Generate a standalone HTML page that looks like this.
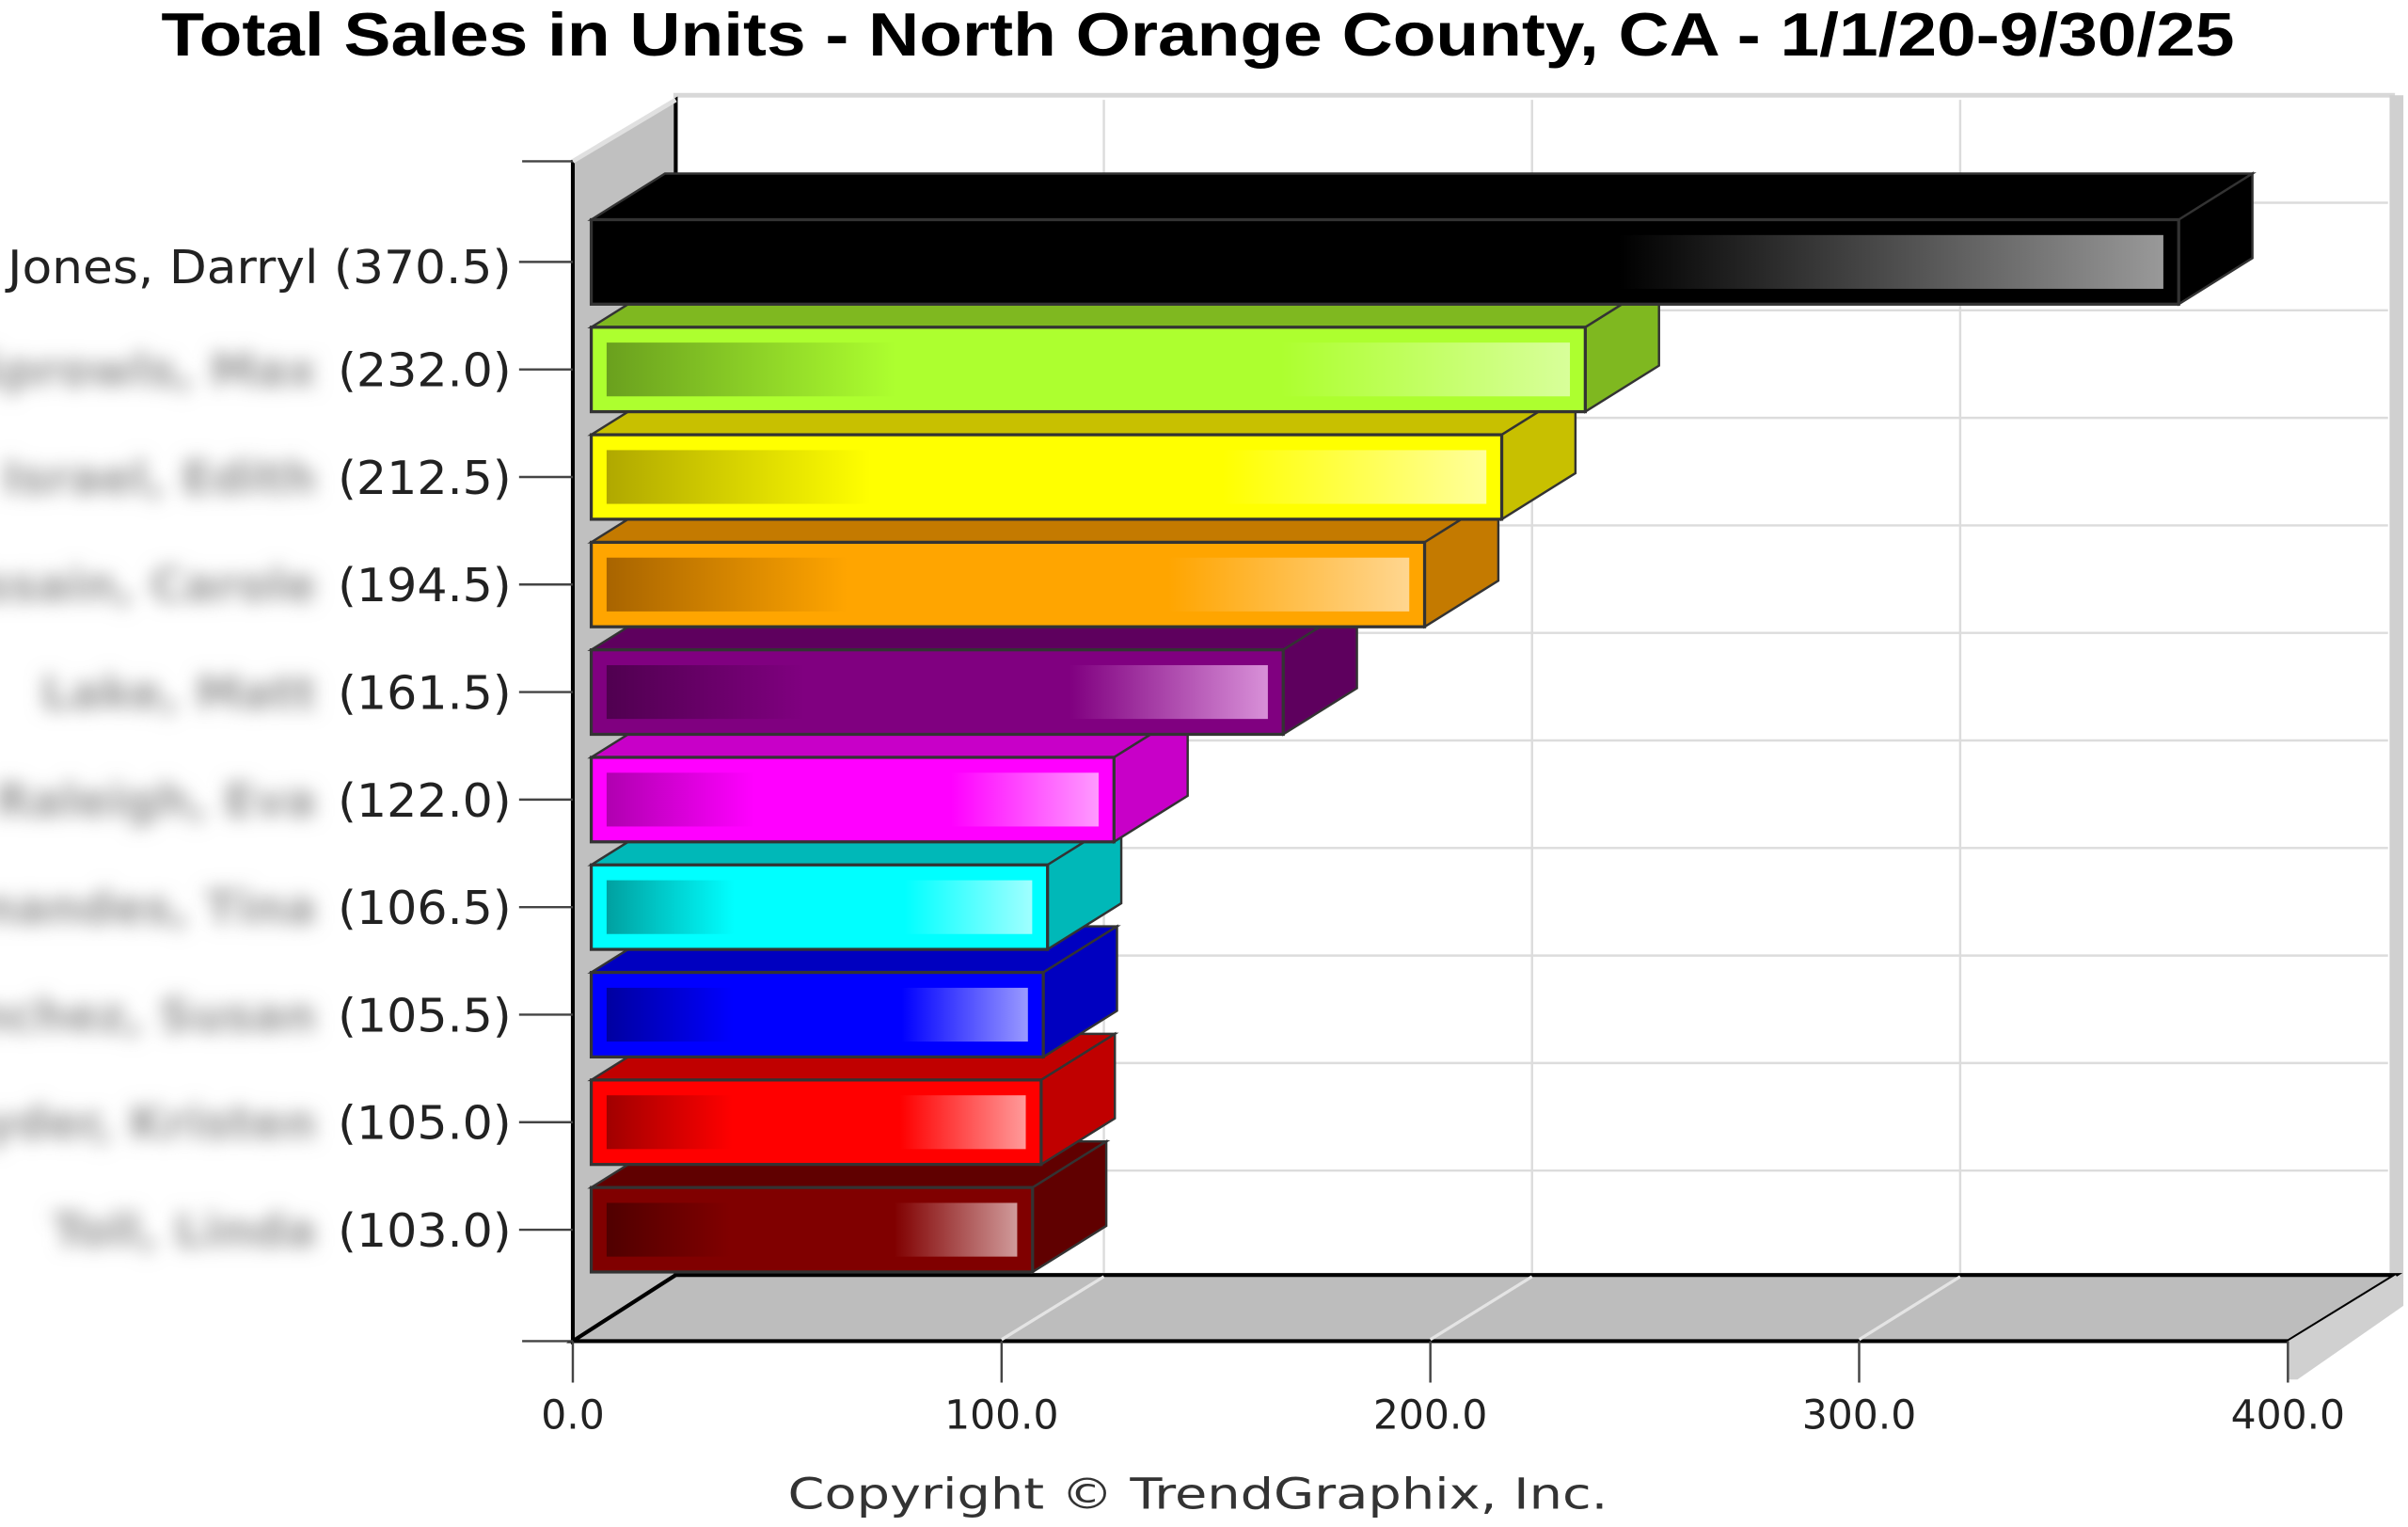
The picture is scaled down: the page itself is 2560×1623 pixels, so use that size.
<!DOCTYPE html>
<html><head><meta charset="utf-8">
<style>
html,body{margin:0;padding:0;background:#fff;}
svg{display:block;}
</style></head>
<body>
<svg id="s" width="2560" height="1623" viewBox="0 0 1568 994" preserveAspectRatio="none" xmlns="http://www.w3.org/2000/svg">
<defs>
<filter id="bl" x="-20%" y="-50%" width="140%" height="200%"><feGaussianBlur stdDeviation="6"/></filter>
</defs>
<text x="780" y="36" text-anchor="middle" font-family="Liberation Sans, Arial, sans-serif" font-weight="bold" font-size="40" textLength="1350" lengthAdjust="spacingAndGlyphs" fill="#000">Total Sales in Units - North Orange County, CA - 1/1/20-9/30/25</text>
<rect x="440" y="62" width="1118" height="768" fill="#fff" stroke="#d8d8d8" stroke-width="3"/>
<rect x="1556" y="62" width="9" height="775" fill="#d0d0d0"/>
<g id="grid" stroke="#dcdcdc" stroke-width="1.5"></g>
<polygon points="373,105 440,65 440,830 373,873" fill="#c0c0c0" stroke="#000" stroke-width="2.5"/>
<line x1="373" y1="105" x2="440" y2="65" stroke="#e0e0e0" stroke-width="3"/>
<polygon points="373,873 440,830 1560,830 1490,873" fill="#bdbdbd" stroke="#000" stroke-width="2.5"/>
<polygon points="1490,873 1560,830 1565,837 1565,850 1496,898 1490,898" fill="#d0d0d0"/>
<g id="fgrid" stroke="#e4e4e4" stroke-width="2"></g>
<g id="ticks" stroke="#444" stroke-width="1.5"></g>
<g id="bars"></g>
<g id="labels" font-family="DejaVu Sans, Verdana, sans-serif" font-size="26" fill="#222"></g>
<g id="ylabels" font-family="DejaVu Sans, Verdana, sans-serif" font-size="30" fill="#222"></g>
<text x="780" y="982" text-anchor="middle" font-family="DejaVu Sans, Verdana, sans-serif" font-size="28" fill="#333" textLength="534" lengthAdjust="spacingAndGlyphs">Copyright © TrendGraphix, Inc.</text>
</svg>
<script>
const NS="http://www.w3.org/2000/svg";
const s=document.getElementById('s');
function el(p,t,a,txt){const e=document.createElementNS(NS,t);for(const k in a)e.setAttribute(k,a[k]);if(txt!==undefined)e.textContent=txt;p.appendChild(e);return e;}
const grid=document.getElementById('grid');
for(let k=1;k<4;k++){const x=440+k*278.8;el(grid,'line',{x1:x,y1:65,x2:x,y2:830});}
for(let k=0;k<11;k++){const y=132+k*70;el(grid,'line',{x1:440,y1:y,x2:1555,y2:y});}
const fg=document.getElementById('fgrid');
for(let k=1;k<4;k++){el(fg,'line',{x1:373+k*279.2,y1:872,x2:440+k*278.8,y2:831});}
const tk=document.getElementById('ticks');
const lab=document.getElementById('labels');
const yl=document.getElementById('ylabels');
for(let k=0;k<5;k++){const x=373+k*279.2;el(tk,'line',{x1:x,y1:873,x2:x,y2:900});
 el(lab,'text',{x:x,y:930,'text-anchor':'middle'},(k*100).toFixed(1));}
el(tk,'line',{x1:340,y1:105,x2:373,y2:105});el(tk,'line',{x1:340,y1:873,x2:373,y2:873});
const data=[
["Jones, Darryl",370.5,"#000000","#000000","#000000","#000000","#999999"],
["Sprowls, Max",232.0,"#adff2f","#7fb820","#7fb820","#6aa01e","#d8ff9a"],
["Israel, Edith",212.5,"#ffff00","#c8c000","#c8c000","#b0a800","#ffff9a"],
["Hussain, Carole",194.5,"#ffa500","#c47a00","#c47a00","#a86400","#ffd690"],
["Lake, Matt",161.5,"#800080","#5e005e","#5e005e","#500050","#d890d8"],
["Raleigh, Eva",122.0,"#ff00ff","#c800c8","#c800c8","#b000b0","#ff9aff"],
["Fernandes, Tina",106.5,"#00ffff","#00b8b8","#00b8b8","#00a0a0","#a0ffff"],
["Sanchez, Susan",105.5,"#0000ff","#0000c0","#0000c0","#0000a0","#9a9aff"],
["Snyder, Kristen",105.0,"#ff0000","#c00000","#c00000","#a00000","#ff9a9a"],
["Toll, Linda",103.0,"#800000","#600000","#600000","#500000","#d09a9a"]];
const defs=s.querySelector('defs');const bars=document.getElementById('bars');
for(let i=data.length-1;i>=0;i--){
 const [nm,v,c,top,side,dark,light]=data[i];
 const y=143+70*i,h=55,x0=385,x1=385+v*2.79,dx=48,dy=-30;
 const g=el(defs,'linearGradient',{id:'g'+i,x1:0,y1:0,x2:1,y2:0});
 if(i==0){el(g,'stop',{offset:0,'stop-color':'#000'});el(g,'stop',{offset:0.65,'stop-color':'#000'});el(g,'stop',{offset:1,'stop-color':light});}
 else{el(g,'stop',{offset:0,'stop-color':dark});el(g,'stop',{offset:0.3,'stop-color':c});el(g,'stop',{offset:0.7,'stop-color':c});el(g,'stop',{offset:1,'stop-color':light});}
 el(bars,'polygon',{points:`${x0},${y} ${x0+dx},${y+dy} ${x1+dx},${y+dy} ${x1},${y}`,fill:top,stroke:'#333','stroke-width':1.5});
 el(bars,'polygon',{points:`${x1},${y} ${x1+dx},${y+dy} ${x1+dx},${y+h+dy} ${x1},${y+h}`,fill:side,stroke:'#333','stroke-width':1.5});
 el(bars,'rect',{x:x0,y:y,width:x1-x0,height:h,fill:c,stroke:'#333','stroke-width':2});
 el(bars,'rect',{x:x0+10,y:y+10,width:x1-x0-20,height:h-20,fill:`url(#g${i})`});
 const cy=y+h/2+11+(i==0?3:0);
 const vt=`(${v.toFixed(1)})`;
 el(tk,'line',{x1:338,y1:y+h/2,x2:373,y2:y+h/2});
 if(i==0){el(yl,'text',{x:333,y:cy,'text-anchor':'end',textLength:328,lengthAdjust:'spacingAndGlyphs'},nm+" "+vt);}
 else{el(yl,'text',{x:333,y:cy,'text-anchor':'end',textLength:113,lengthAdjust:'spacingAndGlyphs'},vt);
  el(yl,'text',{x:206,y:cy,'text-anchor':'end',fill:'#999','font-weight':'bold',filter:'url(#bl)'},nm);}
}
</script>
</body></html>
